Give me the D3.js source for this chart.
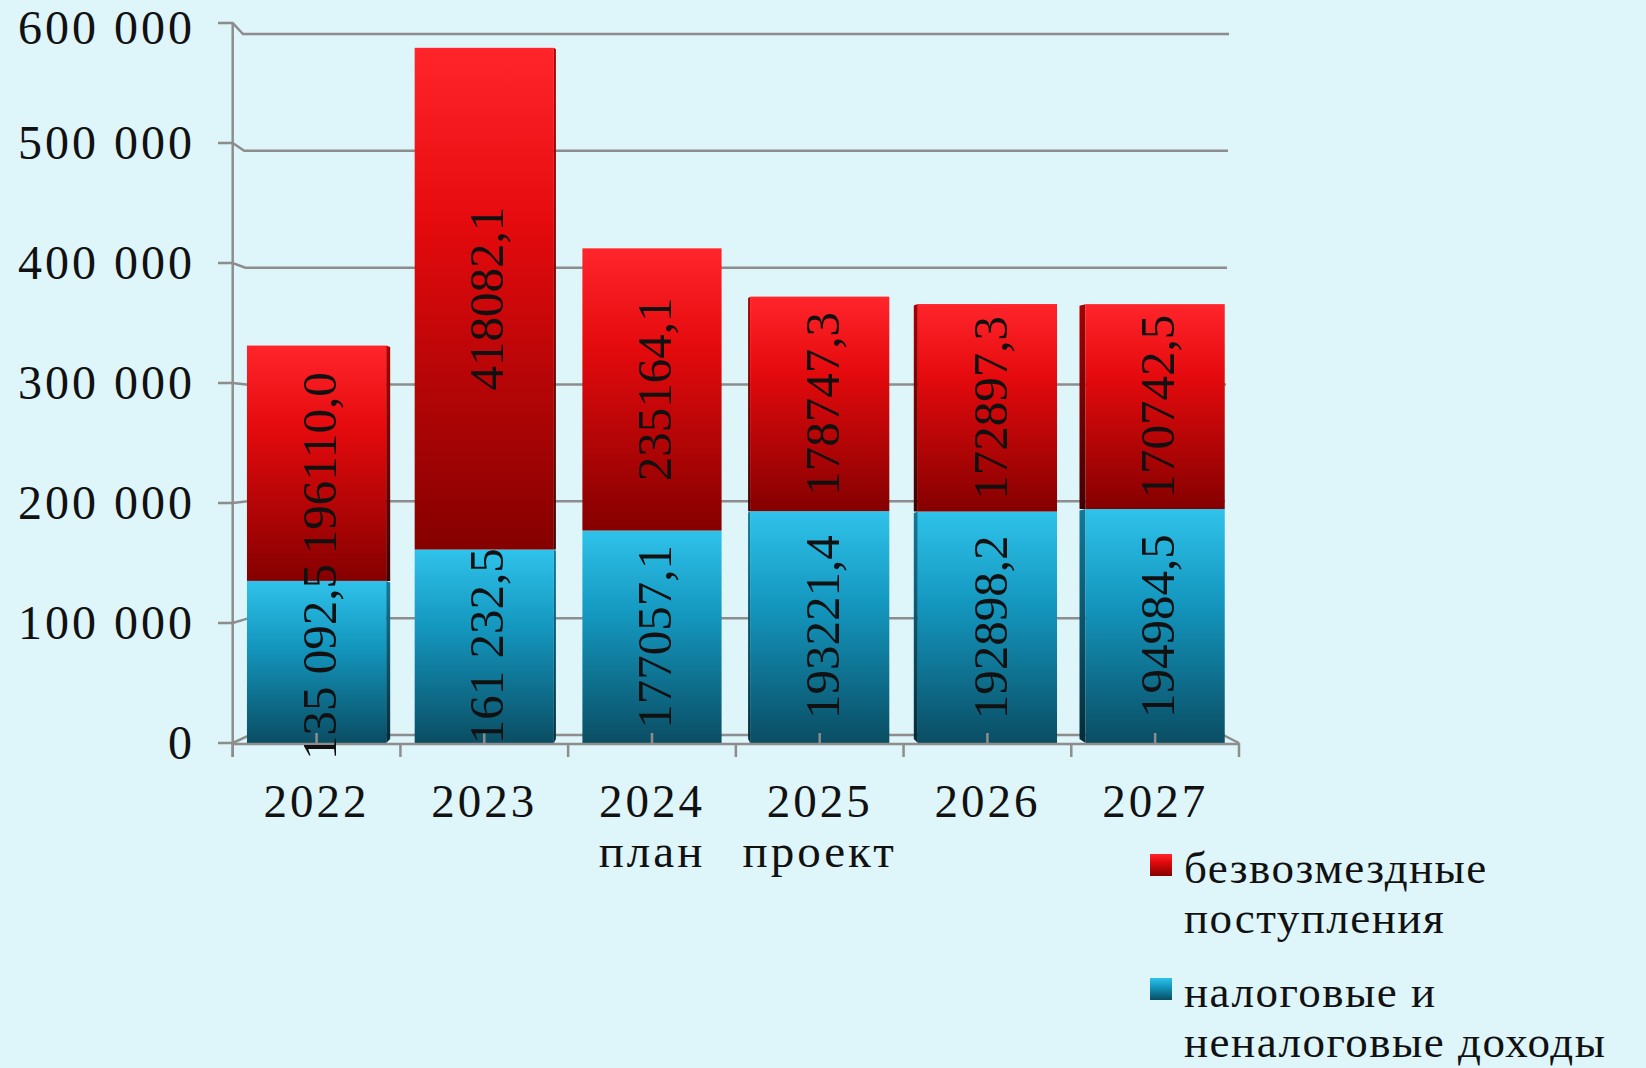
<!DOCTYPE html>
<html lang="ru">
<head>
  <meta charset="UTF-8" />
  <title>Доходы бюджета</title>
  <script src="https://d3js.org/d3.v7.min.js"></script>
  <style>
    body {
      margin: 0;
      padding: 0;
      background: #def5fa;
    }
    svg {
      display: block;
      font-family: "Liberation Serif", "Times New Roman", serif;
    }
    .grid {
      stroke: #8d8d8d;
      stroke-width: 2.5px;
      fill: none;
    }
    .ytick {
      font-size: 48px;
      letter-spacing: 3px;
      fill: #111;
      text-anchor: end;
    }
    .xtick {
      font-size: 47px;
      letter-spacing: 3px;
      fill: #111;
      text-anchor: middle;
    }
    .val {
      font-size: 49px;
      fill: #111;
      text-anchor: middle;
    }
    .legend {
      font-size: 45px;
      letter-spacing: 1.5px;
      fill: #111;
    }
  </style>
</head>
<body>
  <svg width="1646" height="1068"></svg>
  <script>
    // data
    const categories = ["2022", "2023", "2024", "2025", "2026", "2027"];
    const subLabels = ["", "", "план", "проект", "", ""];
    const taxValues = [135092.5, 161232.5, 177057.1, 193221.4, 192898.2, 194984.5];
    const grantValues = [196110.0, 418082.1, 235164.1, 178747.3, 172897.3, 170742.5];
    const taxLabels = ["135 092,5", "161 232,5", "177057,1", "193221,4", "192898,2", "194984,5"];
    const grantLabels = ["196110,0", "418082,1", "235164,1", "178747,3", "172897,3", "170742,5"];
    const yTicks = [0, 100000, 200000, 300000, 400000, 500000, 600000];
    const legendNames = [
      ["безвозмездные", "поступления"],
      ["налоговые и", "неналоговые доходы"]
    ];

    const svg = d3.select("svg");
    const fmt = d3.formatLocale({ decimal: ",", thousands: " ", grouping: [3], currency: ["", ""] }).format(",d");

    // front plane and (slightly smaller) back wall
    const y = d3.scaleLinear().domain([0, 600000]).range([743, 23]);
    const yBack = d3.scaleLinear().domain([0, 600000]).range([735, 34]);
    const xBackLeft = d3.scaleLinear().domain([0, 600000]).range([250, 243]);
    const xBackRight = d3.scaleLinear().domain([0, 600000]).range([1223, 1229]);

    const x = d3.scaleBand().domain(categories).range([232.7, 1239]);
    const barW = x.bandwidth() * 0.83;
    const vanishX = 652;

    // gradients
    const defs = svg.append("defs");
    function grad(id, stops) {
      const g = defs.append("linearGradient").attr("id", id)
        .attr("x1", 0).attr("y1", 0).attr("x2", 0).attr("y2", 1);
      stops.forEach(s => g.append("stop").attr("offset", s[0]).attr("stop-color", s[1]));
    }
    grad("red", [[0, "#ff252b"], [0.35, "#e40a0d"], [1, "#850000"]]);
    grad("blue", [[0, "#2fc2ea"], [0.4, "#1497bf"], [1, "#0a4d63"]]);
    grad("redSide", [[0, "#a80000"], [1, "#400000"]]);
    grad("blueSide", [[0, "#117a9a"], [1, "#042c39"]]);

    // back wall gridlines
    yTicks.forEach(v => {
      if (v === 0) return;
      svg.append("path").attr("class", "grid")
        .attr("d", `M218,${y(v)}L232.7,${y(v)}L${xBackLeft(v)},${yBack(v)}L${xBackRight(v)},${yBack(v)}`);
    });

    // floor
    svg.append("path").attr("class", "grid")
      .attr("d", `M218,${y(0)}L232.7,${y(0)}L${xBackLeft(0)},${yBack(0)}L${xBackRight(0)},${yBack(0)}L1239,${y(0)}`);

    // bars
    const stacks = categories.map((c, i) => ({
      cat: c,
      segs: [
        { y0: 0, y1: taxValues[i], fill: "blue", label: taxLabels[i] },
        { y0: taxValues[i], y1: taxValues[i] + grantValues[i], fill: "red", label: grantLabels[i] }
      ]
    }));

    stacks.forEach(st => {
      const cx = x(st.cat) + x.bandwidth() / 2;
      const x0 = cx - barW / 2;
      const sideW = (vanishX - cx) * 0.012;
      st.segs.forEach(s => {
        const top = y(s.y1), bot = y(s.y0);
        if (Math.abs(sideW) > 0.5) {
          const ex = sideW > 0 ? x0 + barW : x0;
          const ox = ex + sideW;
          svg.append("path")
            .attr("d", `M${ex},${top}L${ox},${top + 1.5}L${ox},${bot - (s.y0 === 0 ? 4 : 0)}L${ex},${bot}Z`)
            .attr("fill", `url(#${s.fill}Side)`);
        }
        svg.append("rect")
          .attr("x", x0).attr("y", top)
          .attr("width", barW).attr("height", bot - top)
          .attr("fill", `url(#${s.fill})`);
      });
    });

    // front axes
    svg.append("line").attr("class", "grid")
      .attr("x1", 232.7).attr("x2", 232.7).attr("y1", y(600000)).attr("y2", 757);
    svg.append("line").attr("class", "grid")
      .attr("x1", 232.7).attr("x2", 1239).attr("y1", y(0) + 1).attr("y2", y(0) + 1);

    // category boundary ticks and centre ticks
    categories.concat(["end"]).forEach((c, i) => {
      const tx = i < categories.length ? x(c) : x.range()[1];
      svg.append("line").attr("class", "grid")
        .attr("x1", tx).attr("x2", tx).attr("y1", y(0)).attr("y2", 757);
    });
    categories.forEach(c => {
      const tx = x(c) + x.bandwidth() / 2;
      svg.append("line").attr("class", "grid")
        .attr("x1", tx).attr("x2", tx).attr("y1", y(0) - 10).attr("y2", y(0) + 2);
    });

    // y tick labels
    svg.selectAll(".ytick").data(yTicks).join("text")
      .attr("class", "ytick")
      .attr("x", 195)
      .attr("y", d => Math.max(y(d) + 16, 44))
      .text(d => fmt(d));

    // x labels
    categories.forEach((c, i) => {
      const cx = x(c) + x.bandwidth() / 2;
      svg.append("text").attr("class", "xtick").attr("x", cx).attr("y", 817).text(c);
      if (subLabels[i]) {
        svg.append("text").attr("class", "xtick").attr("x", cx).attr("y", 867).text(subLabels[i]);
      }
    });

    // value labels (rotated)
    stacks.forEach(st => {
      const cx = x(st.cat) + x.bandwidth() / 2;
      st.segs.forEach(s => {
        const cy = (y(s.y0) + y(s.y1)) / 2;
        svg.append("text").attr("class", "val")
          .attr("transform", `translate(${cx + 3},${cy}) rotate(-90)`)
          .attr("dy", "0.33em")
          .text(s.label);
      });
    });

    // legend
    const legendFills = ["red", "blue"];
    legendNames.forEach((lines, i) => {
      const top = 854 + i * 124;
      svg.append("rect")
        .attr("x", 1150).attr("y", top)
        .attr("width", 22).attr("height", 22)
        .attr("fill", `url(#${legendFills[i]})`);
      lines.forEach((t, j) => {
        svg.append("text").attr("class", "legend")
          .attr("x", 1184).attr("y", top + 29 + j * 50)
          .text(t);
      });
    });
  </script>
</body>
</html>
